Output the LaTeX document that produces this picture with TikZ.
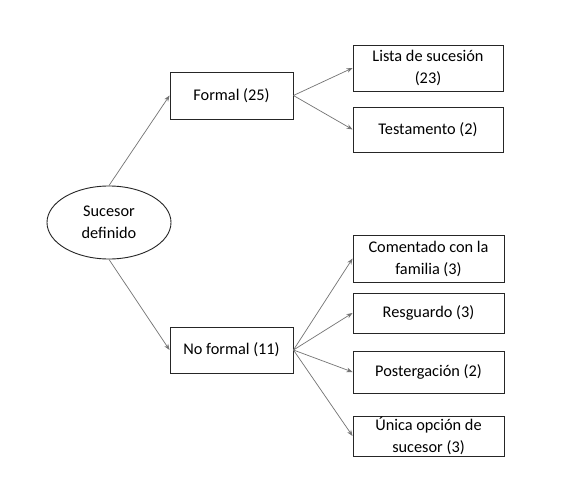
\documentclass[tikz,border=0pt]{standalone}
\usepackage{fontspec}
\setmainfont{Carlito}
\usetikzlibrary{arrows.meta,shapes.geometric}
\begin{document}
\begin{tikzpicture}[x=1pt,y=-1pt,
  box/.style={draw=black!85,line width=0.9pt,fill=white,inner sep=0pt,align=center,font=\fontsize{16.3}{22}\selectfont},
  oval/.style={ellipse,draw=black!85,line width=0.9pt,fill=white,inner sep=0pt,align=center,font=\fontsize{16.3}{22}\selectfont},
  conn/.style={draw=black!55,line width=0.7pt,-{Stealth[length=6pt,width=4.5pt]}}]
\path[use as bounding box,fill=white] (0,0) rectangle (586,497);
\node[oval,minimum width=124pt,minimum height=73pt] (root) at (109,222.5) {Sucesor\\definido};
\node[box,minimum width=123pt,minimum height=47pt] (formal) at (231.5,95.5) {Formal (25)};
\node[box,minimum width=123pt,minimum height=46pt] (noformal) at (231.5,350) {No formal (11)};
\node[box,minimum width=150pt,minimum height=46pt] (lista) at (428,68) {Lista de sucesión\\(23)};
\node[box,minimum width=150pt,minimum height=45pt] (testa) at (428,129.5) {Testamento (2)};
\node[box,minimum width=151pt,minimum height=47pt] (coment) at (428.5,258.5) {Comentado con la\\familia (3)};
\node[box,minimum width=151pt,minimum height=40pt] (resg) at (428.5,313) {Resguardo (3)};
\node[box,minimum width=151pt,minimum height=42pt] (poster) at (428.5,372) {Postergación (2)};
\node[box,minimum width=151pt,minimum height=40pt] (unica) at (428.5,436) {Única opción de\\sucesor (3)};
\draw[conn] (root.north) -- (formal.west);
\draw[conn] (root.south) -- (noformal.west);
\draw[conn] (formal.east) -- (lista.west);
\draw[conn] (formal.east) -- (testa.west);
\draw[conn] (noformal.east) -- (coment.west);
\draw[conn] (noformal.east) -- (resg.west);
\draw[conn] (noformal.east) -- (poster.west);
\draw[conn] (noformal.east) -- (unica.west);
\end{tikzpicture}
\end{document}
